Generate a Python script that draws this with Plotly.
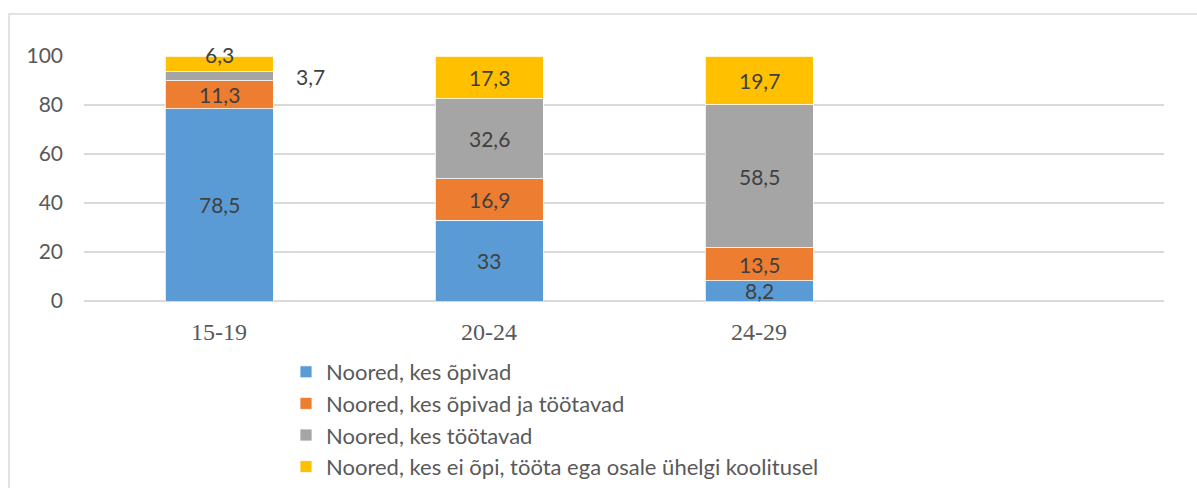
import plotly.graph_objects as go

categories = ["15-19", "20-24", "24-29"]
series_names = [
    "Noored, kes õpivad",
    "Noored, kes õpivad ja töötavad",
    "Noored, kes töötavad",
    "Noored, kes ei õpi, tööta ega osale ühelgi koolitusel",
]
s_opivad = [78.5, 33.0, 8.2]
s_opivad_tootavad = [11.3, 16.9, 13.5]
s_tootavad = [3.7, 32.6, 58.5]
s_ei = [6.3, 17.3, 19.7]
colors = ["#5B9BD5", "#ED7D31", "#A5A5A5", "#FFC000"]

series = [s_opivad, s_opivad_tootavad, s_tootavad, s_ei]

W, H = 1197, 488
ml, mr, mt, mb = 84, 33, 56, 187
pw, ph = W - ml - mr, H - mt - mb

fig = go.Figure()
for i, (name, vals) in enumerate(zip(series_names, series)):
    fig.add_trace(go.Bar(
        x=categories, y=vals, name=name,
        marker=dict(color=colors[i], line=dict(color="white", width=0.8)),
        legendgroup=f"g{i}",
        hoverinfo="skip",
    ))


def fmt(v):
    return f"{v:g}".replace(".", ",")


annotations = []
base = [0.0] * len(categories)
for i, vals in enumerate(series):
    for j, v in enumerate(vals):
        mid = base[j] + v / 2
        ann = dict(x=categories[j], y=mid, xref="x", yref="y", text=fmt(v),
                   showarrow=False,
                   font=dict(family="Lato, Carlito, sans-serif", size=21, color="#404040"))
        if v < 5 and i == 2:
            ann["xshift"] = 91
        elif v < 7 and i == 3:
            ann["yshift"] = 10
        annotations.append(ann)
        base[j] += v

# chart outer border (light grey frame, partly outside the window)
shapes = [dict(type="rect", xref="paper", yref="paper",
               x0=(9 - ml) / pw, x1=(1220 - ml) / pw,
               y0=-(540 - (mt + ph)) / ph, y1=((mt + ph) - 14) / ph,
               line=dict(color="#D9D9D9", width=1.5), fillcolor="rgba(0,0,0,0)",
               layer="below")]

fig.update_layout(
    barmode="stack",
    bargap=0.6,
    width=W, height=H,
    margin=dict(l=ml, r=mr, t=mt, b=mb, autoexpand=False),
    paper_bgcolor="white", plot_bgcolor="white",
    annotations=annotations,
    shapes=shapes,
    showlegend=True,
    legend=dict(
        orientation="v",
        x=(286 - ml) / pw, xanchor="left",
        y=-(351 - (mt + ph)) / ph, yanchor="top",
        font=dict(family="Lato, Carlito, sans-serif", size=22, color="#595959"),
        tracegroupgap=24,
        traceorder="normal",
        bgcolor="rgba(0,0,0,0)",
    ),
    xaxis=dict(
        type="category",
        range=[-0.5, 3.5],
        showgrid=False, showline=False, zeroline=False,
        tickfont=dict(family="Liberation Serif, Times New Roman, serif", size=24, color="#595959"),
        ticklabelstandoff=14,
    ),
    yaxis=dict(
        range=[0, 100],
        tickvals=[0, 20, 40, 60, 80, 100],
        gridcolor="#D9D9D9", gridwidth=1.5,
        zeroline=True, zerolinecolor="#D9D9D9", zerolinewidth=1.5,
        showline=False,
        tickfont=dict(family="Lato, Carlito, sans-serif", size=21, color="#595959"),
        ticklabelstandoff=20,
    ),
)

fig.write_html("out.html", config={"displayModeBar": False},
               post_script="document.body.style.margin='0';document.body.style.padding='0';")
